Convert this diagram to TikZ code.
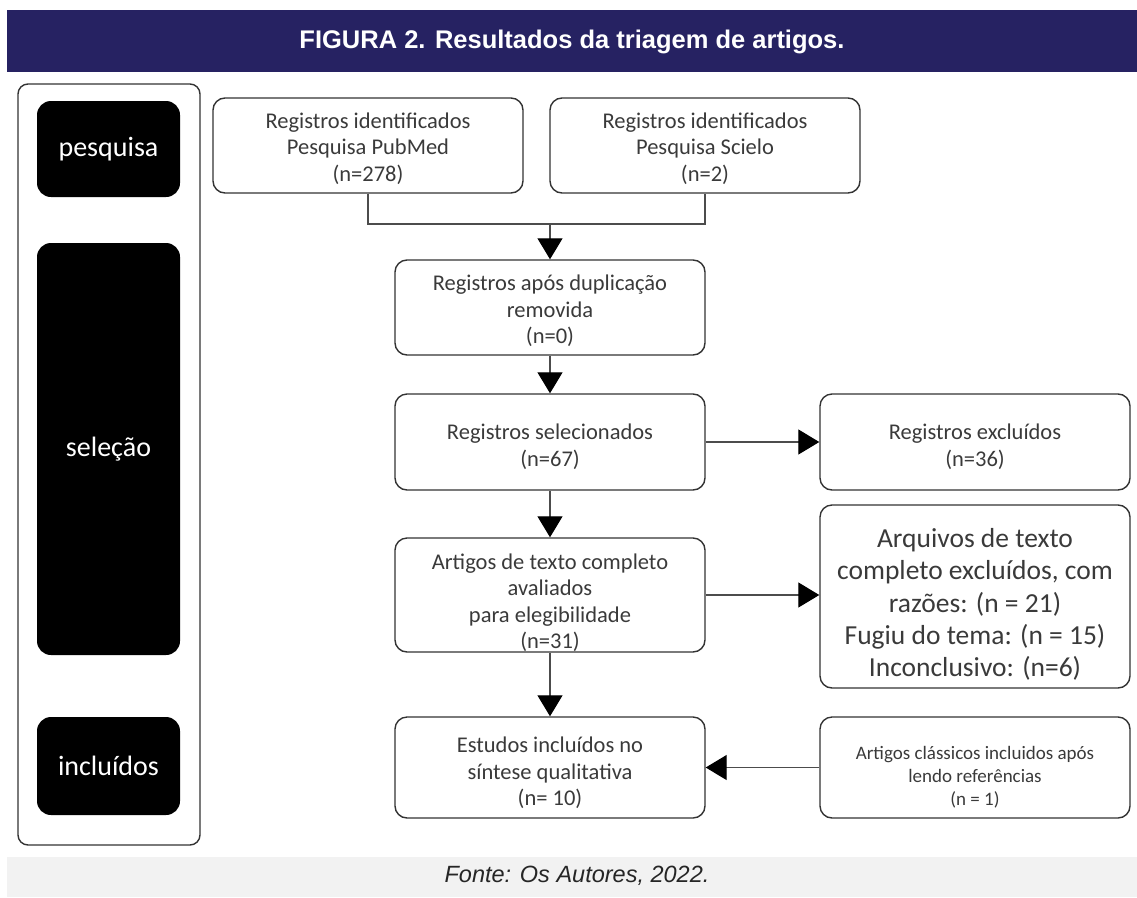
\documentclass[tikz,border=0pt]{standalone}
\usepackage{fontspec}
\setmainfont{Carlito}
\newfontfamily\arialfont{Liberation Sans}
\usetikzlibrary{arrows.meta}
\definecolor{navy}{HTML}{262262}
\definecolor{footgray}{HTML}{F2F2F2}
\definecolor{txtgray}{HTML}{3A3A3A}
\newcommand{\topstrut}[1]{\rule{0pt}{#1}}
\begin{document}
\begin{tikzpicture}[x=1pt,y=-1pt,
 flow/.style={draw=black!80, line width=1.4pt, rounded corners=12pt, minimum width=310pt, align=center, text=txtgray, font=\fontsize{22.5}{26.5}\selectfont, inner sep=0pt},
 phase/.style={fill=black, rounded corners=14pt, minimum width=143pt, text=white, font=\fontsize{28}{32}\selectfont, inner sep=0pt},
 conn/.style={draw=black!70, line width=1.2pt},
 arr/.style={conn, -{Triangle[length=21pt,width=25pt,fill=black,color=black]}}]
\useasboundingbox (0,0) rectangle (1137,897);
% header
\node[fill=navy, minimum width=1130pt, minimum height=62pt, inner sep=0pt, anchor=north west] (hdr) at (7,10) {};
\node[text=white, font=\arialfont\bfseries\fontsize{25.5}{28}\selectfont] (title) at (572,42) {FIGURA 2. Resultados da triagem de artigos.};
% footer
\node[fill=footgray, minimum width=1130pt, minimum height=40pt, inner sep=0pt, anchor=north west] (ftr) at (7,857) {};
\node[text=black!85, font=\arialfont\itshape\fontsize{23.5}{26}\selectfont] (fonte) at (577,876) {Fonte: Os Autores, 2022.};
% left frame and phases
\node[draw=black!80, line width=1.4pt, rounded corners=10pt, minimum width=182pt, minimum height=761pt, inner sep=0pt] (frame) at (109,464.5) {};
\node[phase, minimum height=96pt] (p1) at (108.5,149) {pesquisa};
\node[phase, minimum height=412pt] (p2) at (108.5,449) {seleção};
\node[phase, minimum height=98pt] (p3) at (108.5,766) {incluídos};
% flow boxes
\node[flow, minimum height=95pt] (pub) at (368,145.5) {\topstrut{22pt}Registros identificados\\Pesquisa PubMed\\(n=278)};
\node[flow, minimum height=95pt] (sci) at (705,145.5) {\topstrut{22pt}Registros identificados\\Pesquisa Scielo\\(n=2)};
\node[flow, minimum height=95pt] (dup) at (550,307.5) {\topstrut{23pt}Registros após duplicação\\removida\\(n=0)};
\node[flow, minimum height=96pt] (sel) at (550,442) {\topstrut{25pt}Registros selecionados\\(n=67)};
\node[flow, minimum height=96pt] (exc) at (975,442) {\topstrut{25pt}Registros excluídos\\(n=36)};
\node[flow, minimum height=114pt] (art) at (550,595) {\topstrut{31pt}Artigos de texto completo\\avaliados\\para elegibilidade\\(n=31)};
\node[flow, minimum height=183pt, font=\fontsize{27.5}{32.3}\selectfont] (big) at (975,596.5) {\topstrut{35pt}Arquivos de texto\\completo excluídos, com\\razões: (n = 21)\\Fugiu do tema: (n = 15)\\Inconclusivo: (n=6)};
\node[flow, minimum height=101pt] (est) at (550,767.5) {\topstrut{27pt}Estudos incluídos no\\síntese qualitativa\\(n= 10)};
\node[flow, minimum height=101pt, font=\fontsize{19}{23}\selectfont] (cla) at (975,767.5) {\topstrut{33pt}Artigos clássicos incluidos após\\lendo referências\\(n = 1)};
% connectors
\coordinate (j) at (550,224);
\draw[conn] (pub.south) |- (j) -| (sci.south);
\draw[arr] (j) -- (dup.north);
\draw[arr] (dup.south) -- (sel.north);
\draw[arr] (sel.east) -- (exc.west);
\draw[arr] (sel.south) -- (art.north);
\draw[arr] (art.east) -- (art.east -| big.west);
\draw[arr] (art.south) -- (est.north);
\draw[arr] (cla.west) -- (est.east);
\end{tikzpicture}
\end{document}
